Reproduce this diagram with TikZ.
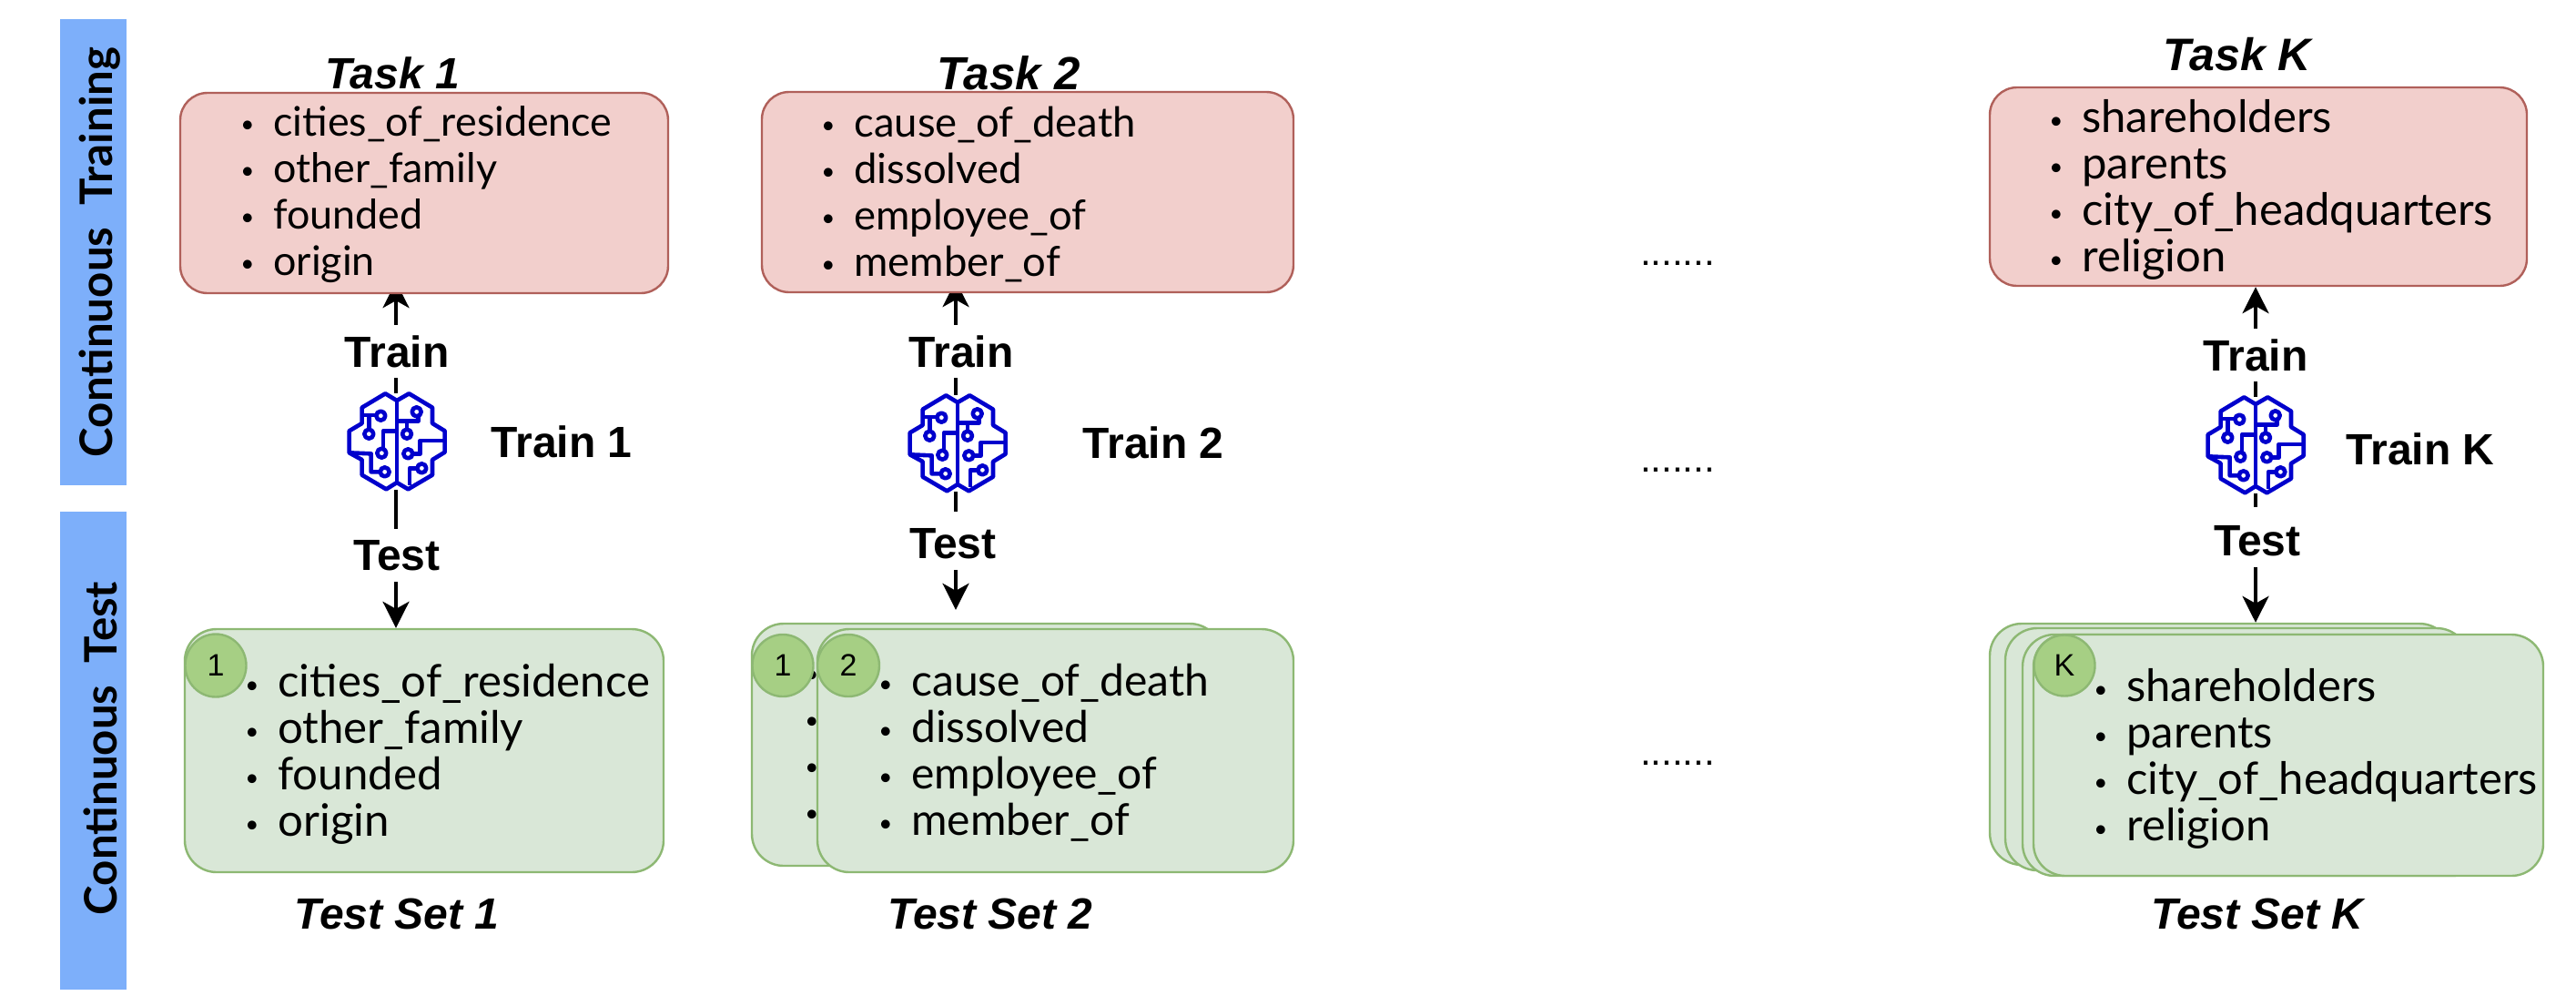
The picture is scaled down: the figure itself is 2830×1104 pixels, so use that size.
\documentclass[tikz,border=0pt]{standalone}
\usepackage{fontspec}
\setmainfont{Liberation Sans}
\newfontfamily\listf{Lato}
\usetikzlibrary{arrows.meta,backgrounds,shapes.geometric}
\definecolor{barblue}{HTML}{7DAFFA}
\definecolor{redfill}{HTML}{F2CFCC}
\definecolor{redline}{HTML}{B0605A}
\definecolor{greenfill}{HTML}{D9E7D7}
\definecolor{greenline}{HTML}{8DB873}
\definecolor{circfill}{HTML}{A6CF84}
\definecolor{brainblue}{HTML}{0000CC}
\tikzset{
  x=0.5pt,y=-0.5pt,
  bar/.style={fill=barblue,draw=none},
  barlabel/.style={rotate=90,inner sep=0,font=\listf\bfseries\fontsize{24.6}{30}\selectfont},
  redbox/.style={draw=redline,fill=redfill,line width=1.2pt,rounded corners=15pt,inner sep=0},
  greenbox/.style={draw=greenline,fill=greenfill,line width=1.2pt,rounded corners=17.5pt,inner sep=0},
  badge/.style={ellipse,draw=greenline,fill=circfill,line width=1.2pt,inner sep=0,font=\fontsize{17}{19}\selectfont},
  title/.style={inner sep=0,font=\bfseries\itshape\fontsize{#1}{28}\selectfont},
  title/.default=24,
  conlabel/.style={inner sep=0,minimum height=29pt,font=\bfseries\fontsize{24}{28}\selectfont},
  trainlabel/.style={inner sep=0,font=\bfseries\fontsize{24}{28}\selectfont},
  dots/.style={inner sep=0,font=\fontsize{21}{24}\selectfont},
  con/.style={line width=1.8pt,draw=black},
  arr/.style={con,-{Stealth[length=14.5pt,width=14.5pt,inset=4pt]}},
  listing/.style={inner sep=0,anchor=west,align=left,font=\listf\fontsize{#1}{25.5}\selectfont},
  brainnode/.style={inner sep=0,minimum width=53pt,minimum height=53pt},
  brainicon/.pic={
    \begin{scope}[x=0.1667pt,y=-0.1667pt,shift={(-350,-315)},draw=brainblue,line width=2.3pt,line join=round]
      \draw (350,180)--(312,157)--(235,203)--(235,255)--(193,280)--(193,352)--(235,375)--(235,425)--(315,472)--(350,450)
            --(387,472)--(467,425)--(467,375)--(508,350)--(508,280)--(467,255)--(467,203)--(390,157)--cycle;
      \draw (350,180)--(350,450);
      \draw (235,228)--(282,228) (258,228)--(258,275);
      \draw (297,230) circle[radius=15] (258,290) circle[radius=15];
      \draw (350,280)--(305,280)--(305,338);
      \draw (300,353) circle[radius=15];
      \draw (193,352)--(265,355)--(265,415)--(295,415);
      \draw (310,415) circle[radius=15];
      \draw (350,248)--(420,248)--(420,232);
      \draw (415,217) circle[radius=15];
      \draw (383,248)--(383,275);
      \draw (383,290) circle[radius=15];
      \draw (508,312)--(427,312)--(427,355)--(403,355);
      \draw (387,355) circle[radius=15];
      \draw (417,403)--(392,403)--(392,460);
      \draw (432,403) circle[radius=15];
    \end{scope}
  }
}
\newcommand{\bltonly}{\raisebox{2pt}{\fontsize{13}{13}\selectfont\textbullet}}
\newcommand{\blt}{\makebox[18pt][l]{\bltonly}}
\newcommand{\boxat}[6]{\node[#1,minimum width=#4*0.5pt-#2*0.5pt,minimum height=#5*0.5pt-#3*0.5pt] (#6) at ({(#2+#4)/2},{(#3+#5)/2}) {};}
\begin{document}
\begin{tikzpicture}
\useasboundingbox (0,0) rectangle (2830,1104);
% side bars
\fill[bar] (66,21) rectangle (139,533);
\fill[bar] (66,562) rectangle (139,1087);
\node[barlabel] (barA) at (110,277) {Continuous\ \ Training};
\node[barlabel] (barB) at (110,822) {Continuous\ \ Test};
% red boxes
\boxat{redbox}{198}{102}{734}{322}{r1}
\boxat{redbox}{837}{101}{1421}{321}{r2}
\boxat{redbox}{2186}{96}{2776}{314}{rk}
\node[title] (t1) at (431,80) {Task 1};
\node[title=25.5] (t2) at (1108,80) {Task 2};
\node[title=25] (tk) at (2458,60) {Task K};
\node[listing=22.4] (l1) at (264,214) {\blt cities\_of\_residence\\\blt other\_family\\\blt founded\\\blt origin};
% green boxes col 1
\boxat{greenbox}{203}{691}{729}{958}{g1}
\node[badge,minimum width=33.5pt,minimum height=34.5pt] (c1) at (237,731) {1};
\node[listing=24.6] (gl1) at (269,828) {\blt cities\_of\_residence\\\blt other\_family\\\blt founded\\\blt origin};
\node[title] (s1) at (436,1004) {Test Set 1};
% col 2
\node[listing=22.7] (l2) at (902,214) {\blt cause\_of\_death\\\blt dissolved\\\blt employee\_of\\\blt member\_of};
\boxat{greenbox}{826}{685}{1342}{951}{g2a}
\node[listing=24] (gl2a) at (884,822) {\bltonly\\\bltonly\\\bltonly\\\bltonly};
\boxat{greenbox}{898}{691}{1421}{958}{g2b}
\node[badge,minimum width=33.5pt,minimum height=34pt] (c2a) at (860,731) {1};
\node[badge,minimum width=34pt,minimum height=34pt] (c2b) at (932,731) {2};
\node[listing=24] (gl2) at (965,827) {\blt cause\_of\_death\\\blt dissolved\\\blt employee\_of\\\blt member\_of};
\node[title] (s2) at (1088,1004) {Test Set 2};
% col K
\node[listing=24.5] (lk) at (2251,208) {\blt shareholders\\\blt parents\\\blt city\_of\_headquarters\\\blt religion};
\boxat{greenbox}{2186}{685}{2693}{950}{gka}
\boxat{greenbox}{2203}{690}{2712}{956}{gkb}
\boxat{greenbox}{2222}{697}{2729}{962}{gkc}
\boxat{greenbox}{2234}{697}{2794}{962}{gkd}
\node[badge,minimum width=33.5pt,minimum height=33.5pt] (ck) at (2268,731) {K};
\node[listing=24.5] (glk) at (2300,833) {\blt shareholders\\\blt parents\\\blt city\_of\_headquarters\\\blt religion};
\node[title] (sk) at (2480,1004) {Test Set K};
% labels
\node[conlabel] (tr1) at (436,386) {Train};
\node[conlabel] (te1) at (436,610) {Test};
\node[conlabel] (tr2) at (1056,386) {Train};
\node[conlabel] (te2) at (1047,597) {Test};
\node[conlabel] (trk) at (2478,390) {Train};
\node[conlabel] (tek) at (2480,594) {Test};
\node[trainlabel] (n1) at (617,485) {Train 1};
\node[trainlabel] (n2) at (1267,486) {Train 2};
\node[trainlabel] (nk) at (2659,493) {Train K};
% brains
\node[brainnode] (b1) at (436,485) {};
\node[brainnode] (b2) at (1052,487) {};
\node[brainnode] (bk) at (2478,489) {};
\pic at (b1) {brainicon};
\pic at (b2) {brainicon};
\pic at (bk) {brainicon};
% dots
\node[dots,anchor=base] (d1) at (1843,291) {.......};
\node[dots,anchor=base] (d2) at (1843,518) {.......};
\node[dots,anchor=base] (d3) at (1843,840) {.......};
% connectors
\coordinate (a1) at (435,0);
\coordinate (a2) at (1050,0);
\coordinate (ak) at (2478,0);
\begin{scope}[on background layer]
\draw[arr,shorten >=-7pt] (tr1.north -| a1) -- (r1.south -| a1);
\draw[arr,shorten >=-7pt] (tr2.north -| a2) -- (r2.south -| a2);
\draw[arr] (trk.north -| ak) -- (rk.south -| ak);
\draw[con] (b1.north -| a1) -- (tr1.south -| a1);
\draw[con] (b2.north -| a2) -- (tr2.south -| a2);
\draw[con] (bk.north -| ak) -- (trk.south -| ak);
\draw[con] (b1.south -| a1) -- (te1.north -| a1);
\draw[con,shorten >=3pt] (b2.south -| a2) -- (te2.north -| a2);
\draw[con,shorten >=4pt] (bk.south -| ak) -- (tek.north -| ak);
\draw[arr] (te1.south -| a1) -- (g1.north -| a1);
\draw[arr,shorten >=7pt] (te2.south -| a2) -- (g2a.north -| a2);
\draw[arr] (tek.south -| ak) -- (gka.north -| ak);
\end{scope}
\end{tikzpicture}
\end{document}
